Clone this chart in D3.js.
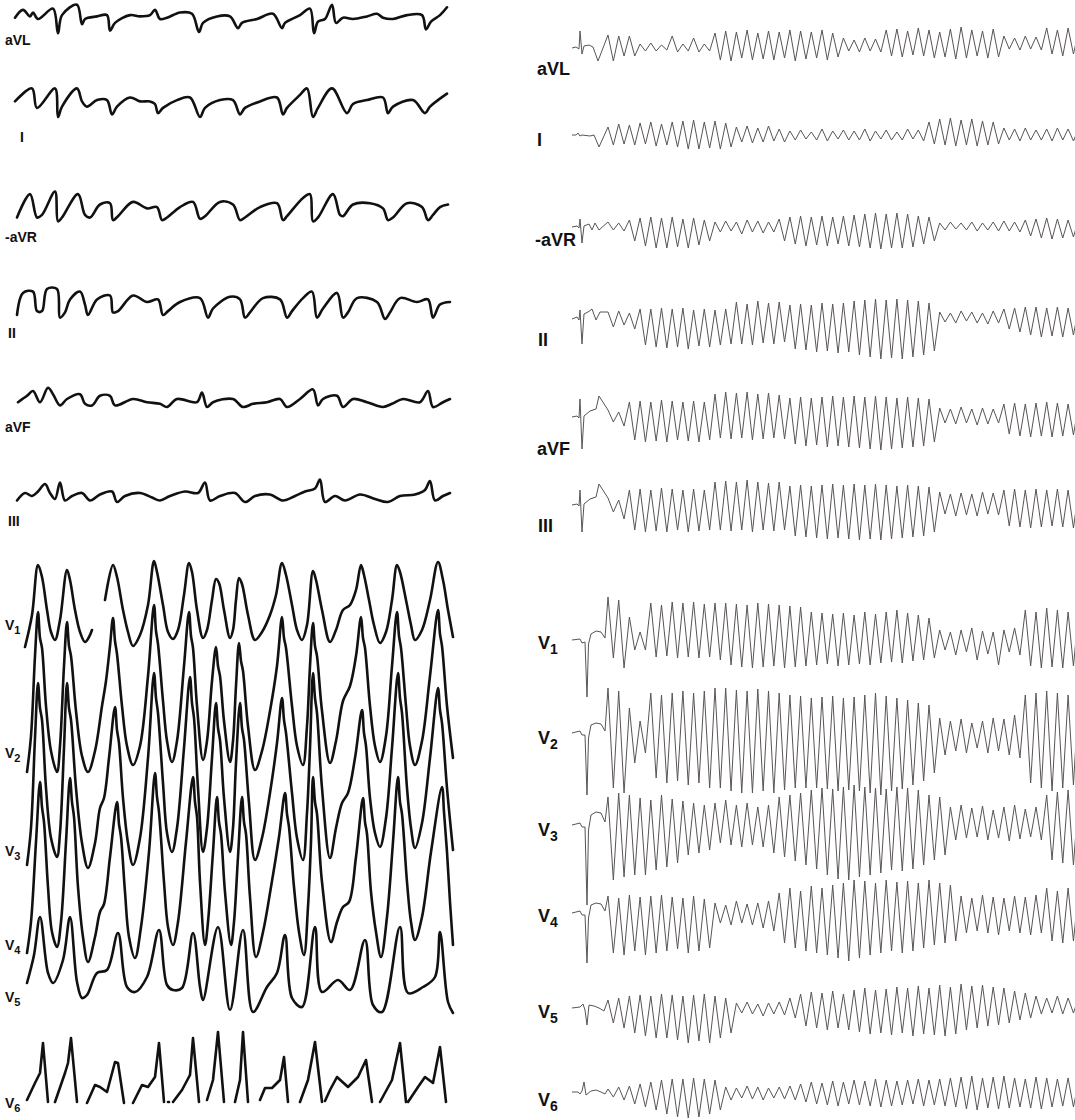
<!DOCTYPE html>
<html>
<head>
<meta charset="utf-8">
<script src="https://cdnjs.cloudflare.com/ajax/libs/d3/7.8.5/d3.min.js"></script>
<style>
  body { margin: 0; background: #fff; }
  text { font-family: "Liberation Sans", Arial, sans-serif; font-weight: bold; fill: #111; }
</style>
</head>
<body>
<svg id="chart" width="1075" height="1120"></svg>
<script>
// =====================
// Left strip: limb leads, [sample, amplitude] vertices
// =====================
const limbAVL = [[15,1],[23,7],[30,2],[33,5],[38,0],[53,8],[58,-11],[62,3],[77,11],[82,-4],[85,0],[97,2],[107,3],[110,-9],[115,-3],[130,3],[140,2],[150,3],[155,7],[160,0],[167,1],[180,5],[192,4],[199,-10],[203,-3],[217,2],[230,2],[238,-7],[242,-3],[257,0],[273,4],[282,-7],[285,-3],[300,3],[310,8],[314,-11],[318,-2],[325,0],[332,11],[336,-3],[343,1],[353,0],[367,2],[377,4],[383,1],[393,0],[407,3],[422,3],[426,-8],[431,-2],[440,3],[447,9]];
const limbI = [[15,2],[32,12],[37,-3],[55,12],[58,-10],[62,-2],[77,12],[82,2],[87,-2],[97,3],[107,3],[112,-8],[117,-2],[130,5],[140,2],[150,2],[155,0],[158,-7],[163,-3],[177,3],[190,5],[200,-10],[205,-3],[220,3],[233,3],[240,-8],[245,-3],[260,2],[277,5],[283,-8],[287,-3],[300,7],[307,12],[313,-10],[318,-3],[332,12],[347,-7],[353,0],[367,3],[383,5],[388,-7],[393,-2],[413,3],[425,-7],[430,-2],[447,8]];
const limbMinusAVR = [[17,-5],[30,13],[37,-5],[42,-3],[55,15],[58,-8],[62,-5],[78,13],[85,-3],[90,-5],[100,5],[110,6],[113,-7],[118,-4],[133,7],[147,2],[157,3],[162,-7],[167,-5],[180,3],[193,7],[200,-6],[205,-4],[220,7],[233,5],[240,-7],[245,-5],[260,3],[277,6],[283,-7],[287,-4],[303,10],[310,13],[313,-8],[318,-5],[333,13],[340,-3],[343,-4],[353,5],[370,6],[383,2],[388,-7],[393,-5],[407,6],[422,3],[428,-7],[433,-3],[440,3],[448,5]];
const limbII = [[17,-10],[23,7],[33,8],[37,-7],[42,-7],[47,10],[57,10],[60,-12],[65,-8],[70,2],[80,8],[85,-2],[88,-10],[97,2],[110,5],[113,-8],[118,-7],[133,5],[147,0],[158,2],[163,-10],[168,-7],[180,0],[200,3],[208,-12],[213,-5],[230,4],[240,2],[245,-12],[250,-8],[263,3],[280,2],[287,-12],[292,-7],[303,3],[312,8],[317,-12],[323,-5],[337,7],[343,-12],[348,-8],[357,3],[377,0],[385,-13],[390,-8],[400,3],[417,0],[428,2],[433,-12],[440,-2],[450,0]];
const limbAVF = [[18,-2],[27,2],[33,5],[40,-2],[48,7],[53,3],[60,-4],[67,0],[80,3],[85,-3],[92,-4],[100,2],[110,2],[115,-4],[133,0],[147,-2],[160,-3],[167,-5],[177,0],[197,-2],[202,4],[207,-5],[213,-2],[233,0],[243,-5],[253,-3],[267,-2],[280,0],[287,-5],[300,0],[313,6],[318,-4],[323,0],[337,2],[343,-5],[353,0],[367,-2],[383,-5],[392,-3],[403,0],[420,-2],[428,5],[433,-5],[443,-2],[450,0]];
const limbIII = [[17,-3],[25,2],[32,0],[38,3],[45,8],[50,2],[55,-2],[60,9],[65,-3],[72,0],[82,2],[90,-3],[100,1],[112,3],[117,-4],[125,0],[140,2],[152,-1],[160,-3],[170,0],[185,3],[198,2],[205,9],[210,-3],[220,0],[235,2],[245,-4],[255,0],[270,1],[283,-3],[295,0],[305,3],[315,5],[320,11],[325,-4],[335,0],[345,-3],[360,1],[375,-2],[388,-4],[400,0],[415,1],[425,4],[430,10],[435,-3],[443,0],[450,2]];

// =====================
// Left strip: precordial leads (null = pen lift)
// =====================
const precV1 = [[25,-7],[32,25],[38,75],[42,63],[47,30],[51,8],[55,0],[60,20],[67,70],[70,60],[75,30],[80,8],[85,-2],[89,3],[92,10],null,[105,40],[113,75],[117,63],[123,30],[128,8],[133,-6],[140,5],[148,35],[154,79],[157,68],[163,35],[168,8],[173,1],[178,10],[184,45],[189,77],[192,68],[197,30],[203,2],[207,10],[212,40],[216,61],[219,57],[224,30],[230,2],[233,10],[236,40],[239,62],[242,56],[248,25],[255,0],[262,8],[270,25],[276,45],[282,77],[286,65],[292,35],[297,10],[302,0],[307,15],[313,69],[316,60],[322,30],[330,-2],[336,10],[343,30],[350,35],[356,50],[361,75],[364,65],[369,40],[374,15],[380,-3],[386,8],[392,40],[397,75],[400,68],[406,40],[411,15],[415,0],[422,10],[430,40],[438,78],[443,60],[448,30],[453,3]];
const precV2 = [[27,-6],[31,30],[35,110],[38,154],[40,128],[42,118],[46,60],[51,15],[57,-6],[60,20],[64,100],[67,144],[69,120],[71,110],[76,55],[82,10],[88,-6],[95,15],[102,60],[106,85],[110,120],[113,148],[115,125],[117,112],[122,60],[127,20],[133,1],[140,20],[148,90],[154,161],[156,135],[158,122],[163,65],[167,25],[172,4],[177,25],[184,100],[189,154],[191,130],[193,118],[197,60],[203,6],[207,25],[212,85],[216,119],[218,100],[220,90],[224,45],[230,4],[233,25],[236,80],[239,123],[241,105],[243,95],[248,40],[255,-4],[262,15],[270,55],[277,100],[282,149],[284,128],[286,118],[292,60],[297,20],[303,1],[307,40],[310,100],[313,143],[315,120],[317,110],[322,55],[330,3],[336,25],[343,65],[350,80],[356,110],[361,149],[363,128],[365,118],[370,60],[375,20],[380,4],[386,30],[392,100],[397,154],[399,130],[401,118],[406,60],[410,20],[415,1],[422,25],[430,90],[438,156],[440,132],[442,120],[447,60],[453,8]];
const precV3 = [[27,-7],[31,30],[35,120],[38,175],[40,150],[42,138],[46,70],[51,20],[57,1],[60,25],[64,110],[67,175],[69,150],[71,138],[76,70],[82,15],[88,-10],[95,15],[100,50],[104,60],[109,100],[115,151],[117,128],[119,115],[123,60],[128,15],[133,-7],[140,20],[148,100],[154,185],[156,160],[158,145],[163,75],[167,25],[172,6],[177,30],[184,110],[190,181],[192,155],[194,140],[198,70],[203,6],[207,30],[212,100],[216,155],[218,130],[220,118],[224,60],[230,6],[233,30],[236,95],[240,155],[242,130],[244,118],[249,55],[255,-2],[262,20],[270,65],[277,115],[282,160],[284,138],[286,125],[292,65],[297,20],[303,-2],[307,45],[310,110],[313,185],[315,160],[317,145],[322,70],[330,0],[336,30],[342,55],[348,65],[355,100],[362,148],[364,125],[366,112],[370,60],[375,25],[380,11],[386,40],[392,110],[398,185],[400,160],[402,145],[407,70],[411,30],[415,10],[422,35],[430,100],[438,170],[440,148],[442,135],[447,70],[453,8]];
const precV4 = [[27,-1],[31,30],[36,110],[40,170],[42,145],[44,130],[48,65],[52,20],[57,5],[61,30],[66,110],[70,174],[72,150],[74,135],[78,65],[83,15],[88,-10],[95,15],[100,40],[104,48],[110,95],[117,150],[119,128],[121,115],[125,60],[129,15],[135,-6],[141,25],[149,100],[155,179],[157,155],[159,140],[164,70],[168,25],[173,7],[178,30],[186,110],[193,175],[195,150],[197,135],[200,70],[205,7],[208,30],[213,100],[217,155],[219,130],[221,118],[225,60],[231,7],[234,30],[238,95],[242,155],[244,130],[246,118],[250,55],[256,-5],[263,20],[271,65],[279,115],[285,159],[287,138],[289,125],[294,65],[299,20],[304,-3],[308,45],[311,110],[313,175],[315,150],[317,138],[322,70],[331,10],[337,30],[343,45],[349,50],[356,95],[363,154],[365,130],[367,118],[371,60],[376,20],[381,-5],[387,35],[393,110],[398,175],[400,150],[402,138],[407,70],[411,30],[415,12],[422,35],[431,100],[442,165],[444,140],[447,100],[450,50],[453,7]];
const precV5 = [[27,17],[34,45],[40,83],[48,27],[53,17],[63,40],[70,83],[77,18],[82,2],[87,5],[97,27],[107,30],[118,67],[127,13],[135,8],[147,23],[159,70],[167,15],[173,10],[182,12],[193,67],[200,13],[203,0],[218,73],[230,-10],[243,70],[253,-12],[267,13],[277,27],[285,65],[292,2],[302,-7],[315,73],[322,8],[338,20],[350,10],[365,60],[373,-5],[382,-12],[400,73],[408,7],[423,13],[435,23],[440,68],[448,-2],[453,-13]];
const precV6 = [[27,2],[35,19],[40,29],[43,59],[48,0],null,[55,0],[65,29],[68,39],[71,64],[77,0],null,[87,-1],[95,17],[100,15],[107,10],[115,40],[118,39],[124,-1],null,[133,-1],[142,17],[148,15],[155,25],[159,59],[164,0],null,[168,0],[169,0],null,[173,0],[182,12],[190,27],[193,64],[199,0],null,[207,2],[213,22],[218,70],[224,0],null,[235,0],[240,22],[243,70],[248,0],null,[260,2],[265,14],[272,14],[280,22],[284,45],[288,0],null,[300,0],[308,22],[315,60],[322,0],null,[325,1],[330,12],[337,25],[348,15],[358,25],[366,42],[372,0],null,[380,0],[392,22],[400,59],[406,0],null,[408,0],[418,15],[425,25],[433,19],[440,55],[446,0]];

// =====================
// Right strip: start of each lead (sinus beat), [sample, amplitude]
// =====================
const preAVL = [[0,0],[4,1],[7,-1],[8,17],[10,-6],[12,2],[17,3],[21,1],[26,-13]];
const preI = [[0,2],[4,2],[6,4],[8,1],[10,2],[18,1],[22,2],[27,-10]];
const preMinusAVR = [[0,-1],[5,0],[7,-2],[8,7],[10,-17],[12,0],[17,2],[20,-4],[23,3],[27,-4]];
const preII = [[0,-2],[5,0],[7,-3],[8,7],[10,-27],[12,3],[16,5],[20,8],[24,-3],[28,5]];
const preAVF = [[0,-3],[5,-2],[7,-4],[8,15],[10,-35],[12,-2],[18,3],[24,5],[27,18]];
const preIII = [[0,-3],[5,-2],[7,-4],[8,12],[10,-30],[12,-2],[18,3],[24,5],[27,18]];
const preV1 = [[0,0],[8,1],[10,-3],[13,-2],[15,-57],[16.5,-4],[19,6],[24,9],[29,8],[33,2]];
const preV2 = [[0,0],[8,2],[10,-2],[13,-2],[15,-62],[16.5,-5],[19,8],[24,10],[29,9],[33,2]];
const preV3 = [[0,0],[8,2],[10,-2],[13,-2],[15,-80],[16.5,-5],[19,10],[24,13],[29,12],[33,3]];
const preV4 = [[0,0],[8,2],[10,-2],[13,-2],[15,-50],[16.5,-5],[19,8],[24,10],[29,9],[33,2]];
const preV5 = [[0,0],[8,1],[11,4],[13,-2],[15,-17],[17,3],[22,2],[27,0],[32,-3]];
const preV6 = [[0,0],[6,0],[8,-2],[10,1],[12,10],[14,-3],[19,1],[24,2],[29,0],[33,-2]];

// =====================
// Right strip: torsades cycles, crest (hi) and trough (lo) per cycle
// =====================
const hiAVL = [13,12,12,4,5,3,12,4,10,4,15,17,16,18,15,17,16,18,17,16,18,15,10,8,10,9,18,19,17,20,18,16,19,21,18,17,19,12,10,12,11,20,18,20,17];
const loAVL = [-13,-8,-8,-3,-3,-2,-4,-3,-4,-3,-12,-13,-10,-12,-11,-12,-10,-13,-11,-10,-12,-9,-3,-4,-3,-4,-8,-9,-7,-8,-10,-9,-11,-10,-8,-10,-9,-1,-2,-1,-2,-6,-8,-6,-5];
const hiI = [10,13,12,14,15,13,15,16,17,15,16,14,10,11,9,11,8,6,7,5,8,6,7,6,8,6,7,5,8,7,15,18,19,17,18,16,15,9,8,9,7,8,9,8,9];
const loI = [-8,-7,-8,-7,-9,-8,-10,-12,-12,-11,-12,-10,-5,-6,-5,-4,-5,-3,-2,-3,-4,-2,-3,-3,-4,-2,-3,-3,-2,-4,-7,-8,-9,-8,-9,-8,-7,-3,-4,-3,-3,-4,-3,-4,-3];
const hiMinusAVR = [4,3,6,8,9,8,9,7,8,6,4,5,4,6,5,4,7,9,10,9,10,9,10,11,12,13,12,13,12,10,9,3,4,3,4,3,4,5,4,6,7,8,7,6,7];
const loMinusAVR = [-4,-5,-15,-20,-22,-22,-21,-22,-19,-15,-6,-5,-8,-6,-7,-6,-15,-18,-20,-19,-20,-18,-20,-21,-22,-23,-22,-22,-21,-18,-15,-4,-3,-4,-5,-4,-5,-5,-6,-10,-12,-13,-12,-11,-12];
const hiII = [5,6,4,8,8,9,8,9,7,8,7,8,15,13,16,14,15,12,13,12,14,13,14,16,17,18,17,18,17,16,14,5,4,6,5,4,6,8,9,10,10,9,10,9,10];
const loII = [-10,-8,-12,-28,-30,-31,-30,-32,-29,-30,-28,-27,-27,-28,-26,-27,-25,-32,-33,-35,-34,-36,-35,-38,-40,-42,-41,-42,-40,-38,-34,-5,-6,-4,-6,-7,-6,-12,-15,-18,-20,-19,-20,-18,-19];
const hiAVF = [4,2,12,13,12,14,13,12,13,12,20,22,21,22,20,21,19,16,17,16,17,18,17,18,17,18,17,16,17,16,15,6,5,7,5,6,5,10,11,10,11,12,11,10,11];
const loAVF = [-8,-12,-26,-28,-27,-28,-26,-27,-28,-26,-24,-25,-24,-26,-25,-24,-25,-30,-32,-31,-33,-32,-33,-34,-35,-36,-35,-34,-33,-32,-28,-9,-10,-9,-11,-10,-9,-20,-22,-23,-22,-23,-22,-21,-22];
const hiIII = [4,2,12,13,12,14,13,12,13,12,20,21,20,22,20,19,20,16,17,16,17,18,17,18,17,18,17,16,17,16,15,10,8,9,8,10,9,12,13,12,13,12,13,12,13];
const loIII = [-10,-17,-28,-30,-29,-30,-28,-30,-29,-28,-28,-29,-28,-30,-28,-29,-28,-34,-35,-36,-37,-36,-37,-38,-37,-38,-37,-36,-35,-34,-30,-12,-14,-13,-14,-12,-13,-24,-25,-26,-25,-24,-25,-26,-24];
const hiV1 = [43,40,23,8,37,35,38,37,38,36,37,37,36,35,37,36,35,34,33,28,27,26,27,25,28,26,28,30,27,25,22,10,8,10,12,9,8,10,12,30,28,32,30,28,30];
const loV1 = [-18,-28,-10,-10,-17,-16,-18,-17,-18,-17,-20,-25,-27,-28,-27,-26,-28,-27,-26,-25,-24,-26,-25,-24,-25,-23,-22,-23,-21,-20,-18,-10,-15,-12,-20,-14,-25,-12,-15,-26,-28,-27,-28,-26,-27];
const hiV2 = [45,42,25,12,40,38,40,42,40,42,45,45,43,42,44,42,40,38,37,35,36,37,35,36,38,40,37,35,33,30,28,15,12,14,10,12,15,14,18,38,40,42,40,38,40];
const loV2 = [-55,-60,-30,-20,-45,-50,-48,-52,-50,-55,-55,-58,-60,-60,-58,-60,-57,-55,-55,-55,-56,-58,-57,-58,-60,-62,-58,-56,-52,-48,-40,-22,-18,-20,-15,-20,-18,-22,-25,-50,-55,-58,-55,-52,-55];
const hiV3 = [28,32,30,27,25,30,26,24,22,20,22,25,20,22,18,20,28,30,32,35,37,36,38,40,38,37,36,38,37,35,30,28,18,20,17,19,15,18,20,16,18,30,33,35,32];
const loV3 = [-55,-52,-50,-50,-45,-42,-38,-30,-28,-25,-18,-20,-22,-20,-22,-28,-32,-36,-40,-44,-50,-54,-55,-52,-50,-48,-45,-46,-44,-40,-35,-30,-15,-13,-12,-15,-13,-16,-14,-12,-15,-35,-38,-40,-38];
const hiV4 = [17,15,18,16,17,18,16,15,17,14,10,8,12,9,10,12,20,25,22,27,25,28,30,33,32,30,33,31,32,30,33,30,28,17,15,18,16,15,17,16,18,25,22,25,24];
const loV4 = [-40,-42,-38,-42,-40,-38,-36,-40,-38,-35,-10,-12,-10,-12,-15,-18,-30,-35,-38,-40,-42,-45,-48,-45,-42,-40,-38,-40,-38,-35,-32,-30,-28,-20,-18,-20,-22,-18,-20,-22,-20,-28,-30,-28,-29];
const hiV5 = [8,10,12,13,12,14,13,12,13,14,12,10,5,6,4,5,6,10,14,16,15,17,14,18,20,18,19,21,20,22,20,23,21,24,22,23,21,20,17,15,12,10,12,10,11];
const loV5 = [-15,-20,-25,-28,-30,-30,-32,-35,-33,-35,-30,-25,-5,-6,-8,-6,-7,-10,-18,-20,-22,-20,-22,-24,-26,-25,-27,-25,-28,-26,-27,-28,-26,-22,-20,-18,-17,-15,-12,-10,-6,-5,-6,-5,-6];
const hiV6 = [3,5,6,8,10,12,13,13,14,13,12,5,4,6,5,4,5,6,8,10,9,11,10,12,11,13,12,11,12,13,12,13,14,15,16,14,15,16,14,13,15,14,13,14,12];
const loV6 = [-5,-8,-12,-15,-18,-22,-25,-26,-25,-22,-18,-8,-6,-7,-8,-6,-7,-8,-10,-12,-13,-14,-12,-13,-14,-15,-14,-13,-12,-14,-13,-14,-15,-17,-18,-16,-17,-16,-15,-16,-17,-15,-14,-15,-13];

// =====================
// Layout tables (positions only)
// =====================
const leftLeads = [
  { name: 'aVL',  pts: limbAVL,      base: 19,   gain: 1.3, lab: [5, 45],   curve: true },
  { name: 'I',    pts: limbI,        base: 104,  gain: 1.3, lab: [20, 142], curve: true },
  { name: '-aVR', pts: limbMinusAVR, base: 211,  gain: 1.3, lab: [5, 242],  curve: true },
  { name: 'II',   pts: limbII,       base: 302,  gain: 1.3, lab: [8, 338],  curve: true },
  { name: 'aVF',  pts: limbAVF,      base: 399,  gain: 1.6, lab: [5, 432],  curve: true },
  { name: 'III',  pts: limbIII,      base: 496,  gain: 1.5, lab: [8, 526],  curve: true },
  { name: 'V', sub: '1', pts: precV1, base: 640,  gain: 1, lab: [5, 630],  curve: true },
  { name: 'V', sub: '2', pts: precV2, base: 766,  gain: 1, lab: [5, 758],  curve: true },
  { name: 'V', sub: '3', pts: precV3, base: 858,  gain: 1, lab: [5, 856],  curve: true },
  { name: 'V', sub: '4', pts: precV4, base: 952,  gain: 1, lab: [5, 950],  curve: true },
  { name: 'V', sub: '5', pts: precV5, base: 1000, gain: 1, lab: [5, 1002], curve: true },
  { name: 'V', sub: '6', pts: precV6, base: 1102, gain: 1, lab: [5, 1108] }
];

const rightLeads = [
  { name: 'aVL',  pre: preAVL,      hi: hiAVL,      lo: loAVL,      base: 48,   lab: [537, 75] },
  { name: 'I',    pre: preI,        hi: hiI,        lo: loI,        base: 137,  lab: [537, 146] },
  { name: '-aVR', pre: preMinusAVR, hi: hiMinusAVR, lo: loMinusAVR, base: 226,  lab: [535, 246] },
  { name: 'II',   pre: preII,       hi: hiII,       lo: loII,       base: 317,  lab: [538, 346] },
  { name: 'aVF',  pre: preAVF,      hi: hiAVF,      lo: loAVF,      base: 414,  lab: [537, 455] },
  { name: 'III',  pre: preIII,      hi: hiIII,      lo: loIII,      base: 502,  lab: [538, 532] },
  { name: 'V', sub: '1', pre: preV1, hi: hiV1, lo: loV1, base: 640,  lab: [538, 649] },
  { name: 'V', sub: '2', pre: preV2, hi: hiV2, lo: loV2, base: 733,  lab: [538, 744] },
  { name: 'V', sub: '3', pre: preV3, hi: hiV3, lo: loV3, base: 825,  lab: [538, 836] },
  { name: 'V', sub: '4', pre: preV4, hi: hiV4, lo: loV4, base: 913,  lab: [538, 922] },
  { name: 'V', sub: '5', pre: preV5, hi: hiV5, lo: loV5, base: 1008, lab: [538, 1018] },
  { name: 'V', sub: '6', pre: preV6, hi: hiV6, lo: loV6, base: 1092, lab: [538, 1106] }
];

const svg = d3.select('#chart');

// =====================
// Scales
// =====================
const xLeft = d3.scaleLinear([0, 455], [0, 455]);        // sample -> px, left strip
const xRight = d3.scaleLinear([0, 505], [572, 1077]);    // sample -> px, right strip
const cycleSample = d3.scaleLinear([0, 1], [36, 46.7]);  // cycle index -> sample
const amp = (base, gain) => d3.scaleLinear([-100, 100], [base + 100 * gain, base - 100 * gain]);

// =====================
// Label helper (V leads get a subscript)
// =====================
function addLabel(d, size, subSize) {
  const t = svg.append('text')
    .attr('x', d.lab[0]).attr('y', d.lab[1])
    .style('font-size', size + 'px')
    .text(d.name);
  if (d.sub) {
    t.append('tspan')
      .attr('dy', size * 0.28)
      .style('font-size', subSize + 'px')
      .text(d.sub);
  }
}

// =====================
// Left strip
// =====================
leftLeads.forEach(d => {
  const y = amp(d.base, d.gain);
  const line = d3.line()
    .defined(p => p !== null)
    .x(p => xLeft(p[0]))
    .y(p => y(p[1]))
    .curve(d.curve ? d3.curveCatmullRom.alpha(0.5) : d3.curveLinear);
  svg.append('path')
    .attr('d', line(d.pts))
    .attr('fill', 'none')
    .attr('stroke', '#111')
    .attr('stroke-width', 2.6)
    .attr('stroke-linejoin', 'round')
    .attr('stroke-linecap', 'round');
  addLabel(d, d.sub ? 14 : 14, 11);
});

// =====================
// Right strip
// =====================
rightLeads.forEach(d => {
  const y = amp(d.base, 1);
  const pts = d.pre.slice();
  d.hi.forEach((h, k) => {
    pts.push([cycleSample(k), h]);
    pts.push([cycleSample(k + 0.5), d.lo[k]]);
  });
  const line = d3.line()
    .x(p => xRight(p[0]))
    .y(p => y(p[1]))
    .curve(d3.curveLinear);
  svg.append('path')
    .attr('d', line(pts))
    .attr('fill', 'none')
    .attr('stroke', '#5a5454')
    .attr('stroke-width', 1)
    .attr('stroke-linejoin', 'round');
  addLabel(d, 18, 14);
});
</script>
</body>
</html>
